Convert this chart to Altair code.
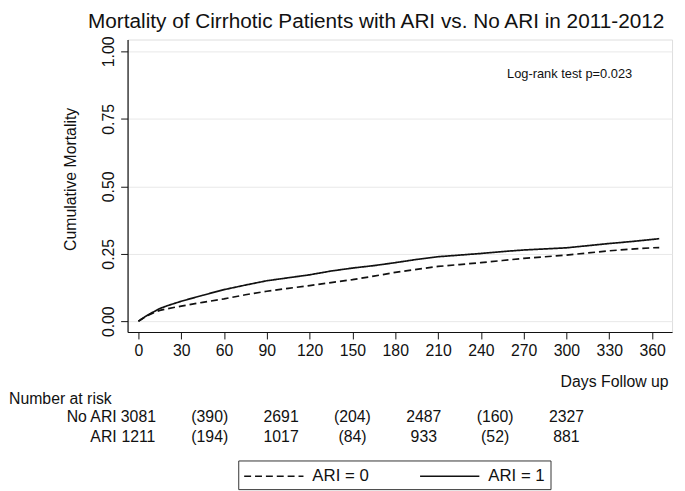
import altair as alt
import pandas as pd

# ---- data ----
days = [0, 5, 10, 15, 20, 30, 45, 60, 75, 90, 105, 120, 135, 150, 165, 180,
        195, 210, 225, 240, 255, 270, 285, 300, 315, 330, 345, 360, 365]
ari0 = [0.0, 0.017, 0.030, 0.040, 0.046, 0.056, 0.070, 0.083, 0.098, 0.111,
        0.122, 0.132, 0.143, 0.154, 0.167, 0.181, 0.192, 0.203, 0.210, 0.217,
        0.225, 0.233, 0.239, 0.245, 0.253, 0.261, 0.267, 0.272, 0.273]
ari1 = [0.0, 0.018, 0.033, 0.047, 0.057, 0.074, 0.096, 0.117, 0.134, 0.150,
        0.161, 0.172, 0.186, 0.197, 0.206, 0.217, 0.229, 0.239, 0.245, 0.251,
        0.258, 0.264, 0.268, 0.272, 0.280, 0.288, 0.295, 0.303, 0.306]
groups = ["ARI = 0", "ARI = 1"]

risk_days = [0, 50, 100, 150, 200, 250, 300]
risk_no_ari = ["3081", "(390)", "2691", "(204)", "2487", "(160)", "2327"]
risk_ari = ["1211", "(194)", "1017", "(84)", "933", "(52)", "881"]
row_labels = ["No ARI", "ARI"]
table_header = ["Number at risk"]
annotation = ["Log-rank test p=0.023"]

x_ticks = list(range(0, 361, 30))
y_ticks = [0.0, 0.25, 0.5, 0.75, 1.0]

title_text = "Mortality of Cirrhotic Patients with ARI vs. No ARI in 2011-2012"

# ---- layout / style ----
FONT = "Liberation Sans"
INK = "#111111"
W, H = 551, 296

curve_df = pd.DataFrame({
    "day": days + days,
    "mortality": ari0 + ari1,
    "group": [groups[0]] * len(days) + [groups[1]] * len(days),
})
no_df = pd.DataFrame({"day": risk_days, "n": risk_no_ari})
ari_df = pd.DataFrame({"day": risk_days, "n": risk_ari})

xscale = alt.Scale(domain=[-7.6, 374], nice=False, zero=False)
yscale = alt.Scale(domain=[-0.04, 1.044], nice=False, zero=False)

x_axis = alt.Axis(
    values=x_ticks, title="Days Follow up", grid=False,
    titleX=547, titleY=55, titleAlign="right", titleBaseline="alphabetic",
    titleFontSize=16, titleFontWeight="normal", titleFont=FONT, titleColor=INK,
    labelFontSize=16, labelFont=FONT, labelColor=INK, labelPadding=4,
    labelFlush=False, labelOverlap=False,
    tickSize=7, tickColor=INK, domainColor=INK, domainWidth=1.2)

x_enc = alt.X("day:Q", scale=xscale, axis=x_axis)

lines = alt.Chart(curve_df).mark_line(strokeWidth=1.7, color=INK).encode(
    x=x_enc,
    y=alt.Y("mortality:Q", scale=yscale, axis=alt.Axis(
        values=y_ticks, format=".2f", title="Cumulative Mortality",
        grid=True, gridColor="#e8e8e8", gridWidth=1,
        titleX=-58, titleY=141, titleAngle=270, titleAlign="center",
        titleBaseline="middle", titleFontSize=16, titleFontWeight="normal",
        titleFont=FONT, titleColor=INK,
        labelAngle=270, labelAlign="center", labelBaseline="middle",
        labelPadding=12, labelFontSize=16, labelFont=FONT, labelColor=INK,
        labelFlush=False, labelOverlap=False,
        tickSize=7, tickColor=INK, domainColor=INK, domainWidth=1.2)),
    strokeDash=alt.StrokeDash("group:N", scale=alt.Scale(domain=groups, range=[[7, 4], [1, 0]]),
        legend=alt.Legend(title=None, orient="none", legendX=112, legendY=426,
                          direction="horizontal", strokeColor="#333333", fillColor="white",
                          padding=5, symbolType="M-1,0H5", symbolSize=400,
                          symbolStrokeWidth=1.5, symbolStrokeColor=INK,
                          labelFontSize=17, labelFont=FONT, labelColor=INK,
                          labelOffset=48, columnPadding=48)),
    order="day:Q",
)

note = alt.Chart(pd.DataFrame({"t": annotation})).mark_text(
    align="left", baseline="middle", fontSize=13, font=FONT, color=INK
).encode(x=alt.value(384), y=alt.value(35), text="t:N")

header = alt.Chart(pd.DataFrame({"t": table_header})).mark_text(
    align="left", baseline="middle", fontSize=16, font=FONT, color=INK
).encode(x=alt.value(-120), y=alt.value(364), text="t:N")

lab_no = alt.Chart(pd.DataFrame({"t": [row_labels[0]]})).mark_text(
    align="right", baseline="middle", fontSize=16, font=FONT, color=INK
).encode(x=alt.value(-11), y=alt.value(382), text="t:N")

lab_ari = alt.Chart(pd.DataFrame({"t": [row_labels[1]]})).mark_text(
    align="right", baseline="middle", fontSize=16, font=FONT, color=INK
).encode(x=alt.value(-11), y=alt.value(402), text="t:N")

row_no = alt.Chart(no_df).mark_text(
    align="center", baseline="middle", fontSize=16, font=FONT, color=INK
).encode(x=x_enc, y=alt.value(382), text="n:N")

row_ari = alt.Chart(ari_df).mark_text(
    align="center", baseline="middle", fontSize=16, font=FONT, color=INK
).encode(x=x_enc, y=alt.value(402), text="n:N")

chart = alt.layer(lines, note, header, lab_no, lab_ari, row_no, row_ari).properties(
    width=W, height=H,
    title=alt.TitleParams(title_text, fontSize=21, font=FONT, fontWeight="normal",
                          anchor="start", frame="group", dx=-40, color=INK),
    autosize=alt.AutoSizeParams(type="none"),
    padding={"left": 121, "top": 29, "right": 5, "bottom": 158},
).configure_view(stroke=None).configure(background="white")

chart.save("out.html", embed_options={"renderer": "svg", "actions": False})
